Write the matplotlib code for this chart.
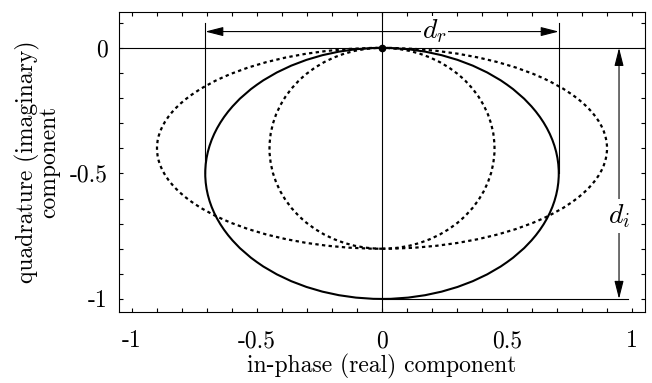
import matplotlib
matplotlib.use("Agg")
import matplotlib.pyplot as plt
from matplotlib.patches import Ellipse
from matplotlib.ticker import MultipleLocator

plt.rcParams["font.family"] = "serif"
plt.rcParams["font.serif"] = ["cmr10"]
plt.rcParams["mathtext.fontset"] = "cm"
plt.rcParams["axes.unicode_minus"] = False

# Ellipses: centre, semi-axes, line style
ell_cx = [0.0, 0.0, 0.0]
ell_cy = [-0.5, -0.4, -0.4]
ell_ax = [0.707, 0.9, 0.45]
ell_ay = [0.5, 0.4, 0.4]
ell_dotted = [False, True, True]

# Dimension markers
dr_half = 0.707
dr_y = 0.065
dr_top = 0.1
di_x = 0.948
di_end = 0.985

xticks = [-1, -0.5, 0, 0.5, 1]
xtick_labels = ["-1", "-0.5", "0", "0.5", "1"]
yticks = [0, -0.5, -1]
ytick_labels = ["0", "-0.5", "-1"]

fig = plt.figure(figsize=(6.52, 3.83), dpi=100)
ax = fig.add_axes([0.1825, 0.1854, 0.8068, 0.7833])

for cx, cy, a, b, dotted in zip(ell_cx, ell_cy, ell_ax, ell_ay, ell_dotted):
    ls = (0, (1.5, 1.5)) if dotted else "-"
    ax.add_patch(Ellipse((cx, cy), 2 * a, 2 * b, fill=False, color="k",
                         lw=1.6 if dotted else 1.5, ls=ls))

# axes through the origin
ax.axhline(0, color="k", lw=0.8)
ax.axvline(0, color="k", lw=0.8)
ax.plot([0], [0], "o", color="k", ms=4.5)

arrow = dict(arrowstyle="<|-|>,head_length=1.1,head_width=0.28",
             mutation_scale=10, lw=0.8, color="k", shrinkA=0, shrinkB=0)

# d_r: extent of the solid ellipse in the real direction
for x in (-dr_half, dr_half):
    ax.plot([x, x], [dr_top, -0.5], color="k", lw=0.8)
ax.annotate("", xy=(dr_half, dr_y), xytext=(-dr_half, dr_y), arrowprops=arrow)
ax.text(0.21, dr_y, r"$d_r$", fontsize=20, ha="center", va="center",
        bbox=dict(facecolor="white", edgecolor="none", pad=1))

# d_i: extent in the imaginary direction
ax.plot([0, di_end], [-1, -1], color="k", lw=0.8)
ax.annotate("", xy=(di_x, -1), xytext=(di_x, 0), arrowprops=arrow)
ax.text(di_x, -0.67, r"$d_i$", fontsize=20, ha="center", va="center",
        bbox=dict(facecolor="white", edgecolor="none", pad=2))

ax.set_xlim(-1.052, 1.052)
ax.set_ylim(-1.052, 0.143)
ax.set_xticks(xticks)
ax.set_xticklabels(xtick_labels)
ax.set_yticks(yticks)
ax.set_yticklabels(ytick_labels)
ax.xaxis.set_minor_locator(MultipleLocator(0.1))
ax.yaxis.set_minor_locator(MultipleLocator(0.1))
ax.tick_params(which="both", direction="in", top=True, right=True,
               labelsize=17, length=3, width=0.8)
ax.tick_params(axis="x", pad=13)
ax.tick_params(axis="y", pad=8)

ax.set_xlabel("in-phase (real) component", fontsize=17, labelpad=1)
ax.set_ylabel("quadrature (imaginary)\ncomponent", fontsize=17,
              linespacing=0.9, labelpad=7)

fig.savefig("out.png", dpi=100)
